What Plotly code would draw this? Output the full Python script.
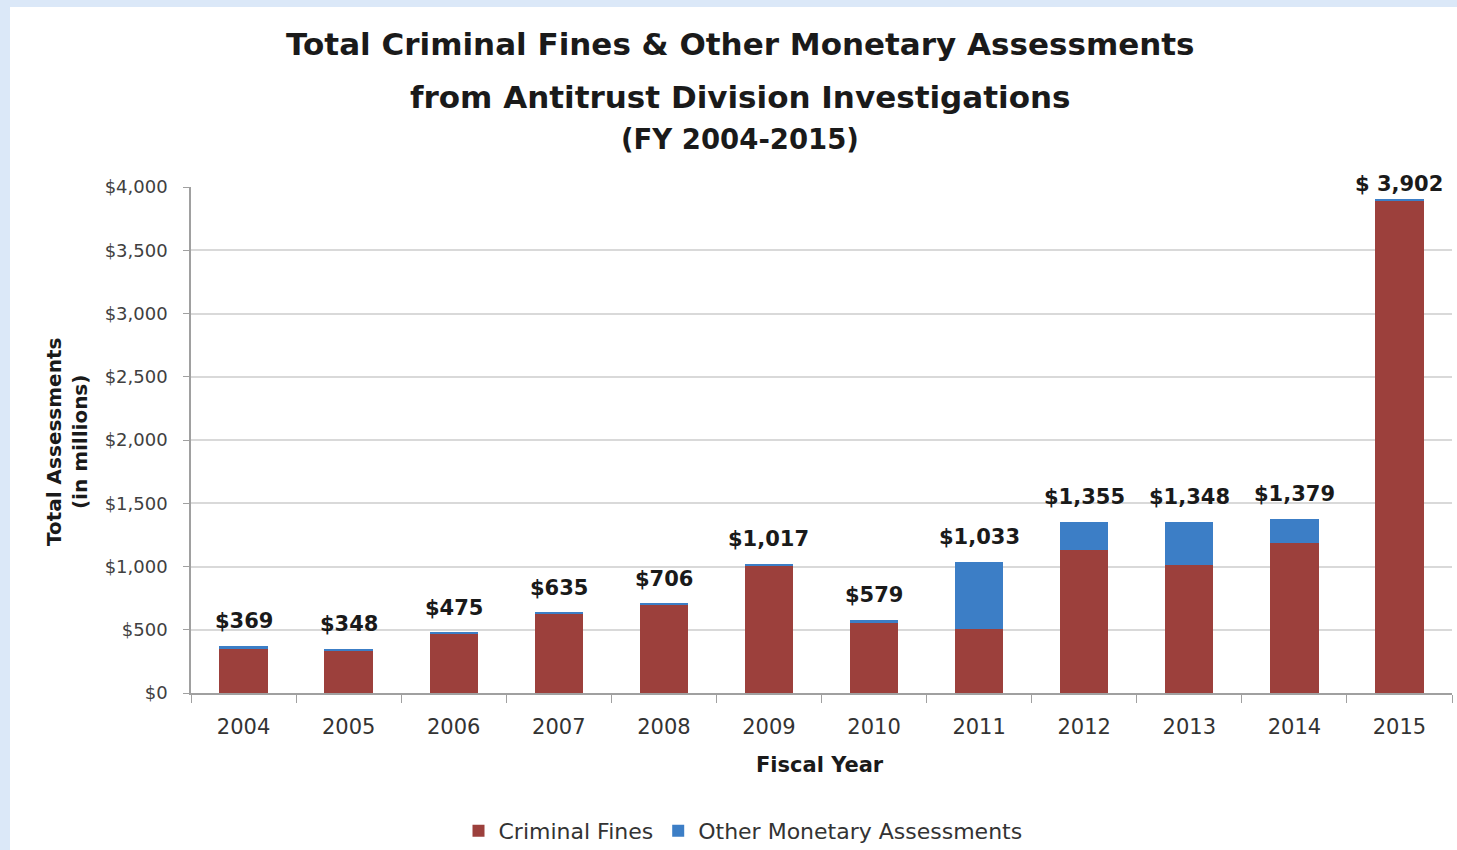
import plotly.graph_objects as go

years = ["2004", "2005", "2006", "2007", "2008", "2009", "2010", "2011", "2012", "2013", "2014", "2015"]
criminal_fines = [350, 338, 470, 630, 701, 1007, 555, 505, 1128, 1010, 1183, 3890]
other_assessments = [19, 10, 5, 5, 5, 10, 24, 528, 227, 338, 196, 12]
totals = [369, 348, 475, 635, 706, 1017, 579, 1033, 1355, 1348, 1379, 3902]
total_labels = ["$369", "$348", "$475", "$635", "$706", "$1,017", "$579", "$1,033", "$1,355", "$1,348", "$1,379", "$ 3,902"]
y_ticks = [0, 500, 1000, 1500, 2000, 2500, 3000, 3500, 4000]
y_tick_labels = ["$0", "$500", "$1,000", "$1,500", "$2,000", "$2,500", "$3,000", "$3,500", "$4,000"]

W, H = 1457, 850
L, R, T, B = 191, 5, 187, 157
pw, ph = W - L - R, H - T - B

def px(x):
    return (x - L) / pw

def py(y):
    return (H - B - y) / ph

fig = go.Figure()
fig.add_trace(go.Bar(x=years, y=criminal_fines, name="Criminal Fines",
                     marker=dict(color="#9c403c", line=dict(width=0))))
fig.add_trace(go.Bar(x=years, y=other_assessments, name="Other Monetary Assessments",
                     marker=dict(color="#3c7ec6", line=dict(width=0))))

bold = "DejaVu Sans"
annotations = []
for i, (tot, lab) in enumerate(zip(totals, total_labels)):
    shift = 15 if i == len(years) - 1 else 25
    annotations.append(dict(x=i, y=tot, xref="x", yref="y", text="<b>" + lab + "</b>",
                            showarrow=False, yshift=shift, xanchor="center", yanchor="middle",
                            font=dict(family=bold, size=21, color="#1a1a1a")))

annotations += [
    dict(text="<b>Total Criminal Fines &amp; Other Monetary Assessments</b>", x=px(740), y=py(44),
         xref="paper", yref="paper", showarrow=False, xanchor="center", yanchor="middle",
         font=dict(family=bold, size=31, color="#1a1a1a")),
    dict(text="<b>from Antitrust Division Investigations</b>", x=px(740), y=py(97),
         xref="paper", yref="paper", showarrow=False, xanchor="center", yanchor="middle",
         font=dict(family=bold, size=31, color="#1a1a1a")),
    dict(text="<b>(FY 2004-2015)</b>", x=px(740), y=py(139),
         xref="paper", yref="paper", showarrow=False, xanchor="center", yanchor="middle",
         font=dict(family=bold, size=27.5, color="#1a1a1a")),
    dict(text="<b>Fiscal Year</b>", x=px(820), y=py(765),
         xref="paper", yref="paper", showarrow=False, xanchor="center", yanchor="middle",
         font=dict(family=bold, size=21, color="#1a1a1a")),
    dict(text="<b>Total Assessments<br>(in millions)</b>", x=px(67), y=py(442),
         xref="paper", yref="paper", showarrow=False, xanchor="center", yanchor="middle",
         textangle=-90, font=dict(family=bold, size=20, color="#1a1a1a")),
]

fig.update_layout(
    width=W, height=H,
    margin=dict(l=L, r=R, t=T, b=B, autoexpand=False),
    barmode="stack", bargap=0.54,
    paper_bgcolor="white", plot_bgcolor="white",
    showlegend=True,
    legend=dict(orientation="h", x=px(743), y=py(831), xanchor="center", yanchor="middle",
                font=dict(family="DejaVu Sans", size=22, color="#333333"),
                bgcolor="rgba(0,0,0,0)", traceorder="normal"),
    xaxis=dict(type="category", range=[-0.5, 11.5], showline=True, linecolor="#a0a0a0", linewidth=1.5,
               ticks="outside", tickson="boundaries", ticklen=8, tickcolor="#a0a0a0",
               ticklabelstandoff=14,
               tickfont=dict(family="DejaVu Sans", size=21, color="#333333"),
               showgrid=False),
    yaxis=dict(range=[0, 4000], tickvals=y_ticks, ticktext=y_tick_labels,
               showline=True, linecolor="#a0a0a0", linewidth=1.5,
               ticks="outside", ticklen=6, tickcolor="#a0a0a0",
               ticklabelstandoff=12,
               tickfont=dict(family="DejaVu Sans", size=18, color="#404040"),
               showgrid=True, gridcolor="#d9d9d9", gridwidth=1.5, zeroline=False),
    shapes=[
        dict(type="rect", xref="paper", yref="paper", x0=px(0), x1=px(10), y0=py(850), y1=py(0),
             fillcolor="#dbe8f8", line=dict(width=0), layer="below"),
        dict(type="rect", xref="paper", yref="paper", x0=px(0), x1=px(1457), y0=py(7), y1=py(0),
             fillcolor="#dbe8f8", line=dict(width=0), layer="below"),
    ],
    annotations=annotations,
)

fig.write_html("out.html")
